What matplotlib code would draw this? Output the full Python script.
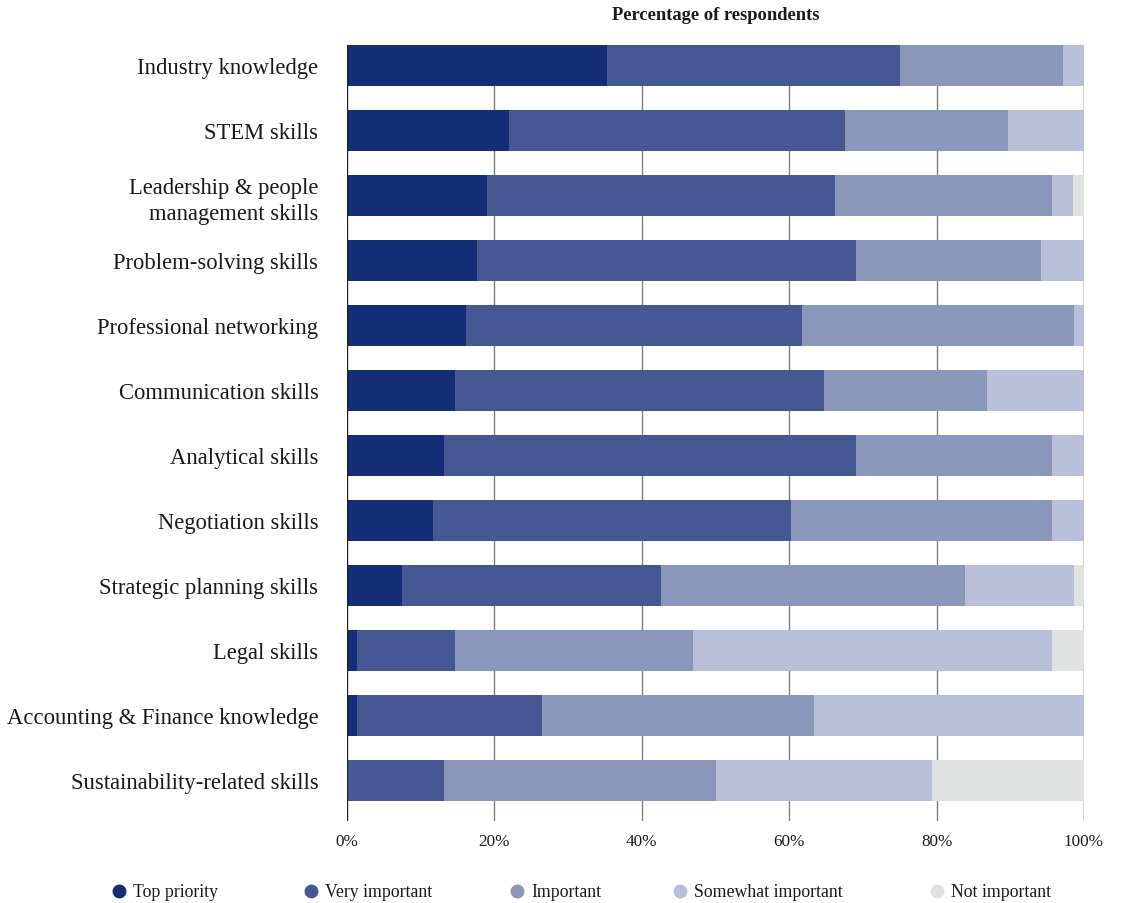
import matplotlib.pyplot as plt

# survey: importance of skills, % of respondents per answer
skills = [
    "Industry knowledge",
    "STEM skills",
    "Leadership & people\nmanagement skills",
    "Problem-solving skills",
    "Professional networking",
    "Communication skills",
    "Analytical skills",
    "Negotiation skills",
    "Strategic planning skills",
    "Legal skills",
    "Accounting & Finance knowledge",
    "Sustainability-related skills",
]
top_priority = [35.3, 22.0, 19.0, 17.6, 16.2, 14.7, 13.2, 11.7, 7.4, 1.4, 1.4, 0.0]
very_important = [39.8, 45.6, 47.2, 51.5, 45.6, 50.0, 55.9, 48.6, 35.2, 13.3, 25.0, 13.2]
important = [22.0, 22.1, 29.4, 25.0, 36.8, 22.1, 26.5, 35.3, 41.3, 32.3, 36.9, 36.8]
somewhat_important = [2.9, 10.3, 2.9, 5.9, 1.4, 13.2, 4.4, 4.4, 14.7, 48.6, 36.7, 29.4]
not_important = [0.0, 0.0, 1.5, 0.0, 0.0, 0.0, 0.0, 0.0, 1.4, 4.4, 0.0, 20.6]

series = [top_priority, very_important, important, somewhat_important, not_important]
series_names = ["Top priority", "Very important", "Important", "Somewhat important", "Not important"]
colors = ["#152c76", "#465893", "#8a96ba", "#b9bfd8", "#e0e1e1"]
ticks = [0, 20, 40, 60, 80, 100]

plt.rcParams['font.family'] = ['Liberation Serif', 'DejaVu Serif']
ink = "#1a1a1a"

fig = plt.figure(figsize=(11.21, 9.04), dpi=100)
W, H = 1121, 904
ax = fig.add_axes([347 / W, 1 - 822 / H, (1084 - 347) / W, (822 - 46) / H])

rows = list(range(len(skills)))
left = [0.0] * len(skills)
for vals, col in zip(series, colors):
    ax.barh(rows, vals, left=left, height=0.63, color=col, zorder=2, linewidth=0)
    left = [l + v for l, v in zip(left, vals)]

for t in ticks:
    c = "#222222" if t in (0, 100) else "#808080"
    ax.axvline(t, color=c, lw=1.0, zorder=1 if t not in (0,) else 3)

ax.set_xlim(0, 100)
ax.set_ylim(11 + 0.63, -0.315)
ax.set_xticks(ticks)
ax.set_xticklabels([f"{t}%" for t in ticks], fontsize=12.3, color=ink)
ax.set_yticks(rows)
ax.set_yticklabels(skills, fontsize=16.3, color=ink, linespacing=1.35)
ax.tick_params(axis='both', length=0)
ax.tick_params(axis='x', pad=9)
ax.tick_params(axis='y', pad=20.6)
for s in ax.spines.values():
    s.set_visible(False)

fig.text(716 / W, 1 - 15 / H, "Percentage of respondents", ha='center', va='center',
         fontsize=13.3, fontweight='bold', color=ink)

# legend row under the chart
lg = fig.add_axes([0, 0, 1, 1])
lg.set_xlim(0, W)
lg.set_ylim(H, 0)
lg.axis('off')
marker_x = [119, 311, 517, 680, 937]
for mx, name, col in zip(marker_x, series_names, colors):
    lg.plot(mx, 892, 'o', ms=10, color=col, mec='none')
    lg.text(mx + 14, 893, name, ha='left', va='center', fontsize=12.8, color=ink)

fig.savefig("out.png", dpi=100)
